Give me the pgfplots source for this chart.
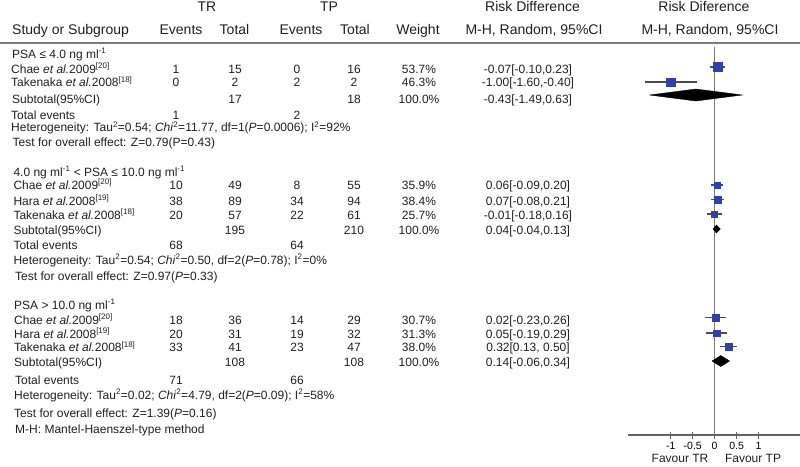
\documentclass[border=0pt]{standalone}
\usepackage{fontspec}
\setmainfont{Liberation Sans}
\usepackage{pgfplots}
\pgfplotsset{compat=1.18}
\usepackage{pgfplotstable}

\definecolor{sqblue}{HTML}{3040A8}
\definecolor{ciline}{HTML}{4A4A55}
\definecolor{rule}{HTML}{7A7A7A}

% study rows: y position (px from top), estimate, CI, half side of square
\pgfplotstableread{
y      est    lo     hi     s
67     0.07  -0.10   0.23   4.5
82    -1.00  -1.60  -0.40   4.2
185    0.06  -0.09   0.20   3.3
199.5  0.07  -0.08   0.21   3.5
214   -0.01  -0.18   0.16   3.0
317.5  0.02  -0.23   0.26   3.3
333    0.05  -0.19   0.29   3.3
346.7  0.32   0.13   0.50   3.6
}\studies

\newcommand\hd{\fontsize{14}{16}\selectfont}
\newcommand\bd{\fontsize{12}{14}\selectfont}
% x, baseline, name, events TR, total TR, events TP, total TP, weight, RD
\newcommand\row[9]{%
  \node[L] at (#1,#2) {#3};
  \node[C] at (176,#2) {#4};
  \node[C] at (235,#2) {#5};
  \node[C] at (297,#2) {#6};
  \node[C] at (354,#2) {#7};
  \node[C] at (419,#2) {#8};
  \node[C] at (528,#2) {#9};}

\begin{document}
\begin{tikzpicture}
\path[use as bounding box] (0pt,0pt) rectangle (800pt,-466pt);

\begin{axis}[
    at={(628pt,-435pt)}, anchor=south west,
    scale only axis, width=172pt, height=390pt,
    xmin=-1.98, xmax=1.95, ymin=45, ymax=435, y dir=reverse,
    axis x line=bottom, axis y line=none,
    axis line style={-, draw=rule!80!black, line width=1.6pt},
    xtick={-1,-0.5,0,0.5,1}, xticklabels={-1,-0.5,0,0.5,1},
    tick align=center, major tick length=7pt,
    tick style={draw=rule!80!black, line width=1.1pt},
    xticklabel style={font=\fontsize{10.5}{12}\selectfont, anchor=base,
        inner sep=0pt, yshift=-11pt},
    clip=false,
]
% line of no effect
\addplot[draw=rule, line width=1.3pt] coordinates {(0,47) (0,435)};
% confidence intervals
\addplot[only marks, mark=none, draw=ciline,
    error bars/.cd, x dir=both, x explicit, error mark=none,
    error bar style={draw=ciline, line width=1.2pt}]
    table[x=est, y=y, x error plus expr=\thisrow{hi}-\thisrow{est},
          x error minus expr=\thisrow{est}-\thisrow{lo}] {\studies};
% study weights as squares
\addplot[scatter, only marks, mark=square*,
    scatter/use mapped color={draw=sqblue, fill=sqblue},
    visualization depends on={\thisrow{s} \as \msz},
    scatter/@pre marker code/.append style={/tikz/mark size=\msz}]
    table[x=est, y=y] {\studies};
% pooled estimates
\addplot[fill=black, draw=black] coordinates {(-1.49,95) (-0.43,89) (0.63,95) (-0.43,101) (-1.49,95)};
\addplot[fill=black, draw=black] coordinates {(-0.04,229) (0.04,225) (0.13,229) (0.04,233) (-0.04,229)};
\addplot[fill=black, draw=black] coordinates {(-0.06,361) (0.14,355.5) (0.34,361) (0.14,366.5) (-0.06,361)};
\end{axis}

\begin{scope}[x=1pt, y=-1pt, text=black!88,
    L/.style={anchor=base west, inner sep=0pt, font=\bd},
    C/.style={anchor=base, inner sep=0pt, font=\bd},
    H/.style={anchor=base, inner sep=0pt, font=\hd}]
\draw[rule, line width=1.4pt] (0,43) -- (800,43);

% header
\node[H] at (207,11.7) {TR};
\node[H] at (329,11.7) {TP};
\node[H] at (532.5,11.7) {Risk Difference};
\node[H] at (704,11.7) {Risk Diference};
\node[H, anchor=base west] at (12,34) {Study or Subgroup};
\node[H] at (181,34) {Events};
\node[H] at (234.5,34) {Total};
\node[H] at (301,34) {Events};
\node[H] at (355,34) {Total};
\node[H] at (418,34) {Weight};
\node[H] at (534,34) {M-H, Random, 95\%CI};
\node[H] at (710,34) {M-H, Random, 95\%CI};

% PSA <= 4.0
\node[L] at (12,58) {PSA ≤ 4.0 ng ml\textsuperscript{-1}};
\row{11}{73}{Chae \textit{et al.}2009\textsuperscript{[20]}}{1}{15}{0}{16}{53.7\%}{-0.07[-0.10,0.23]}
\row{11}{86.5}{Takenaka \textit{et al.}2008\textsuperscript{[18]}}{0}{2}{2}{2}{46.3\%}{-1.00[-1.60,-0.40]}
\row{12}{103}{Subtotal(95\%CI)}{}{17}{}{18}{100.0\%}{-0.43[-1.49,0.63]}
\row{11}{119}{Total events}{1}{}{2}{}{}{}
\node[L] at (11,131.5) {Heterogeneity: Tau\textsuperscript{2}=0.54; \textit{Chi}\textsuperscript{2}=11.77, df=1(\textit{P}=0.0006); I\textsuperscript{2}=92\%};
\node[L] at (12.5,146) {Test for overall effect: Z=0.79(P=0.43)};

% 4.0 < PSA <= 10.0
\node[L] at (13.3,176) {4.0 ng ml\textsuperscript{-1} < PSA ≤ 10.0 ng ml\textsuperscript{-1}};
\row{13.3}{189.3}{Chae \textit{et al.}2009\textsuperscript{[20]}}{10}{49}{8}{55}{35.9\%}{0.06[-0.09,0.20]}
\row{13.3}{205}{Hara \textit{et al.}2008\textsuperscript{[19]}}{38}{89}{34}{94}{38.4\%}{0.07[-0.08,0.21]}
\row{13.3}{219}{Takenaka \textit{et al.}2008\textsuperscript{[18]}}{20}{57}{22}{61}{25.7\%}{-0.01[-0.18,0.16]}
\row{13.3}{234.3}{Subtotal(95\%CI)}{}{195}{}{210}{100.0\%}{0.04[-0.04,0.13]}
\row{13.3}{249}{Total events}{68}{}{64}{}{}{}
\node[L] at (13.3,264.3) {Heterogeneity: Tau\textsuperscript{2}=0.54; \textit{Chi}\textsuperscript{2}=0.50, df=2(\textit{P}=0.78); I\textsuperscript{2}=0\%};
\node[L] at (15,280) {Test for overall effect: Z=0.97(\textit{P}=0.33)};

% PSA > 10.0
\node[L] at (14,309.3) {PSA > 10.0 ng ml\textsuperscript{-1}};
\row{14}{324.3}{Chae \textit{et al.}2009\textsuperscript{[20]}}{18}{36}{14}{29}{30.7\%}{0.02[-0.23,0.26]}
\row{14}{338.3}{Hara \textit{et al.}2008\textsuperscript{[19]}}{20}{31}{19}{32}{31.3\%}{0.05[-0.19,0.29]}
\row{14}{351.7}{Takenaka \textit{et al.}2008\textsuperscript{[18]}}{33}{41}{23}{47}{38.0\%}{0.32[0.13, 0.50]}
\row{14}{366.7}{Subtotal(95\%CI)}{}{108}{}{108}{100.0\%}{0.14[-0.06,0.34]}
\row{15}{384}{Total events}{71}{}{66}{}{}{}
\node[L] at (14,399.3) {Heterogeneity: Tau\textsuperscript{2}=0.02; \textit{Chi}\textsuperscript{2}=4.79, df=2(\textit{P}=0.09); I\textsuperscript{2}=58\%};
\node[L] at (14,417.7) {Test for overall effect: Z=1.39(\textit{P}=0.16)};
\node[L] at (15,433.3) {M-H: Mantel-Haenszel-type method};

% favour labels
\node[C] at (680,462.5) {Favour TR};
\node[C] at (753,462.5) {Favour TP};
\end{scope}
\end{tikzpicture}
\end{document}
